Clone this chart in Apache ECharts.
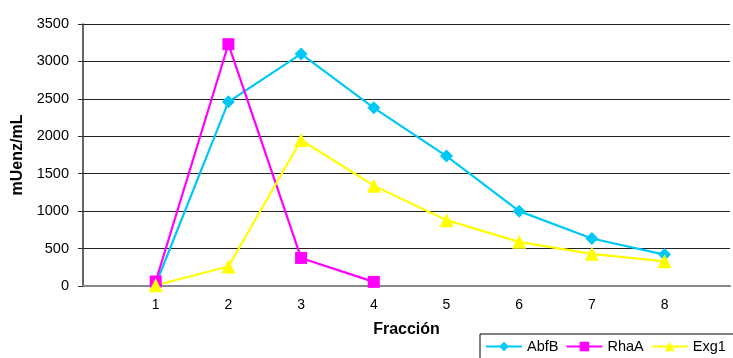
<!DOCTYPE html>
<html>
<head>
<meta charset="utf-8">
<script src="https://cdn.jsdelivr.net/npm/echarts@6/dist/echarts.min.js"></script>
<style>
  html, body { margin: 0; padding: 0; background: #fff; }
  #chart { width: 733px; height: 358px; }
</style>
</head>
<body>
<div id="chart"></div>
<script>
// Enzyme activity per collected fraction
const fractions = [1, 2, 3, 4, 5, 6, 7, 8];
const abfB = [20, 2460, 3100, 2380, 1735, 1000, 635, 420];
const rhaA = [60, 3230, 375, 55];
const exg1 = [10, 260, 1950, 1340, 880, 590, 430, 330];
const yTicks = [0, 500, 1000, 1500, 2000, 2500, 3000, 3500];

const pairs = (vals) => vals.map((v, i) => [fractions[i], v]);
const font = 'Liberation Sans, Arial, sans-serif';

const chart = echarts.init(document.getElementById('chart'), null, { renderer: 'canvas' });

function lineSeries(name, color, symbol, size, vals) {
  return {
    name: name,
    type: 'line',
    data: pairs(vals),
    symbol: symbol,
    symbolSize: size,
    showAllSymbol: true,
    lineStyle: { color: color, width: 2.2 },
    itemStyle: { color: color },
    emphasis: { disabled: true },
    z: 3
  };
}

chart.setOption({
  animation: false,
  backgroundColor: '#ffffff',
  textStyle: { fontFamily: font },
  grid: { left: 83, right: 0, top: 24, bottom: 72 },
  xAxis: {
    type: 'value',
    min: 0,
    max: 8.9,
    interval: 1,
    name: 'Fracción',
    nameLocation: 'middle',
    nameGap: 36,
    nameTextStyle: { fontFamily: font, fontWeight: 'bold', fontSize: 16, color: '#000' },
    axisLine: { show: true, lineStyle: { color: '#888', width: 2 } },
    axisTick: { show: false },
    splitLine: { show: false },
    axisLabel: {
      margin: 12,
      fontSize: 14,
      color: '#000',
      fontFamily: font,
      formatter: (v) => (fractions.indexOf(v) >= 0 ? String(v) : '')
    }
  },
  yAxis: {
    type: 'value',
    min: 0,
    max: yTicks[yTicks.length - 1],
    interval: 500,
    name: 'mUenz/mL',
    nameLocation: 'middle',
    nameGap: 54,
    nameRotate: 90,
    nameTextStyle: { fontFamily: font, fontWeight: 'bold', fontSize: 16, color: '#000' },
    axisLine: { show: true, lineStyle: { color: '#333', width: 1.5 } },
    axisTick: { show: true, inside: false, length: 5, lineStyle: { color: '#333' } },
    axisLabel: {
      margin: 14,
      fontSize: 14.5,
      color: '#000',
      fontFamily: font,
      formatter: (v) => String(v)
    },
    splitLine: { show: true, lineStyle: { color: '#222', width: 1.2 } }
  },
  legend: {
    left: 480,
    top: 334,
    width: 320,
    orient: 'horizontal',
    backgroundColor: '#fff',
    borderColor: '#000',
    borderWidth: 1,
    borderRadius: 0,
    padding: [5, 8, 8, 5],
    itemWidth: 36,
    itemHeight: 12,
    itemGap: 7,
    textStyle: { fontSize: 14.5, color: '#000', fontFamily: font },
    data: ['AbfB', 'RhaA', 'Exg1']
  },
  series: [
    lineSeries('AbfB', '#00C8F5', 'diamond', 13, abfB),
    lineSeries('RhaA', '#FF00FF', 'rect', 12, rhaA),
    lineSeries('Exg1', '#FFFF00', 'triangle', 14, exg1)
  ]
});
</script>
</body>
</html>
